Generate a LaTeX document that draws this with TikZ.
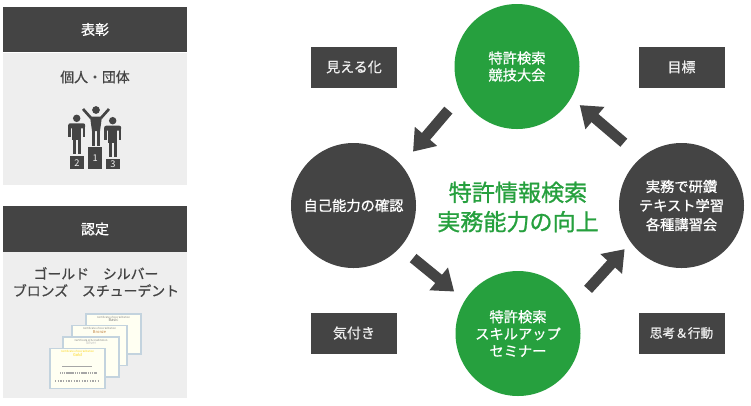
\documentclass[tikz,border=0pt]{standalone}
\usepackage{fontspec}
\setmainfont{Noto Sans CJK JP}[FakeBold=0.8]
\newfontfamily\thinfont{Noto Sans CJK JP}
\newfontfamily\ctrfont{Noto Sans CJK JP}[FakeBold=1.0]
\usetikzlibrary{arrows.meta}
\definecolor{dark}{HTML}{444444}
\definecolor{pale}{HTML}{EEEEEE}
\definecolor{grn}{HTML}{26A03E}
\definecolor{certb}{HTML}{C3D3DE}
\definecolor{certf}{HTML}{FFFFF2}
\tikzset{
  x=0.75pt,y=-0.75pt,
  bigcircle/.style={circle,minimum size=93.75pt,inner sep=0pt,outer sep=0pt,text=white,align=center,font=\fontsize{10.7pt}{12.8pt}\selectfont},
  greencircle/.style={bigcircle,fill=grn},
  darkcircle/.style={bigcircle,fill=dark},
  tagbox/.style={fill=dark,minimum width=64.5pt,minimum height=30.75pt,inner sep=0pt,text=pale,font=\fontsize{10.5pt}{13pt}\selectfont},
  header/.style={fill=dark,text=white,minimum width=138pt,inner sep=0pt,font=\fontsize{10.5pt}{13pt}\selectfont},
  panel/.style={fill=pale,minimum width=138pt,inner sep=0pt},
  paneltext/.style={text=dark,align=center,inner sep=0pt,font=\fontsize{10.4pt}{12.8pt}\selectfont},
  fatarrow/.style={draw=dark,line width=8pt,-{Triangle[length=15pt,width=21pt]}},
  cert/.style={draw=certb,fill=certf,line width=1.3pt,minimum width=41.5pt,minimum height=30pt,inner sep=0pt},
  certtext/.style={inner sep=0pt,text=gray,font=\thinfont\fontsize{2pt}{2.4pt}\selectfont},
  certname/.style={inner sep=0pt,text=gray,font=\thinfont\fontsize{3pt}{3.6pt}\selectfont},
  limb/.style={draw=dark,line width=2pt},
  leg/.style={draw=dark,line width=2.2pt},
  podium/.style={fill=dark,text=pale,minimum width=10.5pt,inner sep=0pt,font=\thinfont\fontsize{7pt}{8pt}\selectfont},
}
\newcommand{\standing}[2]{%
  \begin{scope}[shift={(#1,#2)}]
    \fill[dark] (0,0) circle (2.8pt);
    \fill[dark,rounded corners=1.5pt] (-8.5,5) rectangle (8.5,10);
    \fill[dark] (-4.5,6) rectangle (4.5,22);
    \draw[limb] (-7.3,7) -- (-7.3,19);
    \draw[limb] (7.3,7) -- (7.3,19);
    \draw[leg] (-2.6,20) -- (-2.6,36);
    \draw[leg] (2.6,20) -- (2.6,36);
  \end{scope}}
\begin{document}
\begin{tikzpicture}
\useasboundingbox (0,0) rectangle (751,405);
\fill[white] (0,0) rectangle (751,405);
% left panels
\node[panel,minimum height=99.5pt] (p1) at (95,119) {};
\node[header,minimum height=34pt] (h1) at (95,29.5) {表彰};
\node[paneltext] (t1) at (95,77) {個人・団体};
\node[panel,minimum height=110pt] (p2) at (95,325) {};
\node[header,minimum height=34.5pt] (h2) at (95,229) {認定};
\node[paneltext] (t2) at (96,282) {ゴールド　シルバー\\ブロンズ　スチューデント};
% podium icon
\standing{76.7}{118.3}
\standing{112.7}{120.7}
\fill[dark] (96,110) circle (2.9pt);
\draw[limb] (83,109) -- (91,118);
\draw[limb] (109,109) -- (101,118);
\fill[dark] (90,116.5) -- (102,116.5) -- (100,131) -- (92,131) -- cycle;
\draw[leg] (93.6,128) -- (93.6,146);
\draw[leg] (98.4,128) -- (98.4,146);
\node[podium,minimum height=17pt] (pod1) at (95.3,158) {1};
\node[podium,minimum height=10pt] (pod2) at (77,162.7) {2};
\node[podium,minimum height=7.5pt] (pod3) at (113,164.3) {3};
% certificates
\node[cert] (c4) at (113.5,334) {};
\node[cert] (c3) at (99.5,345.5) {};
\node[cert] (c2) at (91,357) {};
\node[cert] (c1) at (77.5,368.5) {};
\node[certtext,anchor=north] (c4t) at (c4.north) [yshift=-2pt] {Certificate of Accreditation};
\node[certtext,anchor=north] (c3t) at (c3.north) [yshift=-2pt] {Certificate of Accreditation};
\node[certtext,anchor=north] (c2t) at (c2.north) [yshift=-2pt] {Certificate of Accreditation};
\node[certtext,anchor=north,text=yellow!70!orange] (c1t) at (c1.north) [yshift=-2pt] {Certificate of Accreditation};
\node[certname,anchor=north] (c4n) at (c4t.south) {Basic};
\node[certname,anchor=north,text=brown] (c3n) at (c3t.south) {Bronze};
\node[certname,anchor=north,text=lightgray] (c2n) at (c2t.south) {Silver};
\node[certname,anchor=north,text=yellow!70!orange] (c1n) at (c1t.south) {Gold};
\draw[gray!70,line width=0.3pt] (62,366) -- (92,366);
\draw[gray!70,line width=0.8pt,dash pattern=on 1pt off 0.4pt] (60,373) -- (97,373);
\draw[gray!70,line width=0.8pt,dash pattern=on 1pt off 1pt] (55,381) -- (100,381);
% circles
\node[greencircle] (top) at (517,66.5) {特許検索\\競技大会};
\node[greencircle] (bot) at (518,333.5) {特許検索\\スキルアップ\\セミナー};
\node[darkcircle] (lft) at (353.5,205.5) {自己能力の確認};
\node[darkcircle,font=\fontsize{10.7pt}{14.3pt}\selectfont] (rgt) at (681.5,205.5) {実務で研鑽\\テキスト学習\\各種講習会};
% tags
\node[tagbox] (g1) at (354,67) {見える化};
\node[tagbox] (g2) at (681.5,67) {目標};
\node[tagbox] (g3) at (354,333) {気付き};
\node[tagbox,font=\fontsize{9.5pt}{12pt}\selectfont] (g4) at (681.5,333) {思考＆行動};
% centre
\node[text=grn,align=center,inner sep=0pt,font=\ctrfont\fontsize{17.3pt}{22pt}\selectfont] (ctr) at (518,207) {特許情報検索\\実務能力の向上};
% arrows
\draw[fatarrow,shorten <=15pt,shorten >=13.5pt] (top.207.7) -- (lft.40.3);
\draw[fatarrow,shorten <=17.25pt,shorten >=8.5pt] (rgt.130.4) -- (top.330);
\draw[fatarrow,shorten <=16pt,shorten >=7pt] (bot.27.2) -- (rgt.216);
\draw[fatarrow,shorten <=12.75pt,shorten >=10.5pt] (lft.318) -- (bot.148);
\end{tikzpicture}
\end{document}
